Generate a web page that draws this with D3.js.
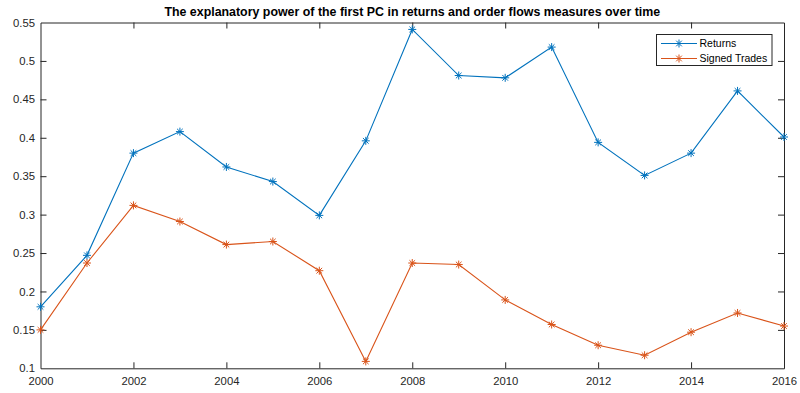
<!DOCTYPE html>
<html>
<head>
<meta charset="utf-8">
<script src="https://cdn.jsdelivr.net/npm/d3@7"></script>
<style>
  html, body { margin: 0; padding: 0; background: #fff; }
  svg { display: block; font-family: "Liberation Sans", Arial, sans-serif; }
</style>
</head>
<body>
<svg id="chart" width="800" height="393"></svg>
<script>
// Share of variance explained by the first principal component, per year
const years = [2000, 2001, 2002, 2003, 2004, 2005, 2006, 2007, 2008,
               2009, 2010, 2011, 2012, 2013, 2014, 2015, 2016];
const returnsPC = [0.180, 0.247, 0.380, 0.408, 0.362, 0.343, 0.299, 0.396, 0.541,
                   0.481, 0.478, 0.518, 0.394, 0.351, 0.380, 0.461, 0.401];
const signedTradesPC = [0.150, 0.237, 0.312, 0.291, 0.261, 0.265, 0.227, 0.109, 0.237,
                        0.235, 0.189, 0.157, 0.130, 0.117, 0.147, 0.172, 0.155];
const xTickValues = [2000, 2002, 2004, 2006, 2008, 2010, 2012, 2014, 2016];
const yTickValues = [0.1, 0.15, 0.2, 0.25, 0.3, 0.35, 0.4, 0.45, 0.5, 0.55];
const seriesNames = ["Returns", "Signed Trades"];
const seriesColors = ["#0072BD", "#D95319"];
const titleText = "The explanatory power of the first PC in returns and order flows measures over time";

const svg = d3.select("#chart");
const plotLeft = 40.5, plotRight = 784, plotTop = 22.5, plotBottom = 368.3;
const axisColor = "#262626";
const tickLen = 6;

const x = d3.scaleLinear().domain([2000, 2016]).range([plotLeft, plotRight]);
const y = d3.scaleLinear().domain([0.1, 0.55]).range([plotBottom, plotTop]);

// Title
svg.append("text")
  .attr("x", (plotLeft + plotRight) / 2).attr("y", 15.5)
  .attr("text-anchor", "middle")
  .attr("font-size", 12.4).attr("font-weight", "bold")
  .attr("fill", "#000")
  .text(titleText);

// Axes: box with inward ticks on all four sides
const xFmt = d3.format("d");
const yFmt = v => d3.format("")(+v.toFixed(2));

const axB = svg.append("g").attr("transform", `translate(0,${plotBottom})`)
  .call(d3.axisBottom(x).tickValues(xTickValues).tickFormat(xFmt).tickSizeInner(-tickLen).tickSizeOuter(0).tickPadding(8.5));
const axT = svg.append("g").attr("transform", `translate(0,${plotTop})`)
  .call(d3.axisTop(x).tickValues(xTickValues).tickFormat("").tickSizeInner(-tickLen).tickSizeOuter(0));
const axL = svg.append("g").attr("transform", `translate(${plotLeft},0)`)
  .call(d3.axisLeft(y).tickValues(yTickValues).tickFormat(yFmt).tickSizeInner(-tickLen).tickSizeOuter(0).tickPadding(5.5));
const axR = svg.append("g").attr("transform", `translate(${plotRight},0)`)
  .call(d3.axisRight(y).tickValues(yTickValues).tickFormat("").tickSizeInner(-tickLen).tickSizeOuter(0));

[axB, axT, axL, axR].forEach(g => {
  g.select(".domain").attr("stroke", axisColor).attr("stroke-width", 1);
  g.selectAll(".tick line").attr("stroke", axisColor).attr("stroke-width", 1);
  g.selectAll(".tick text").attr("fill", axisColor).attr("font-size", 11.3)
    .attr("font-family", "Liberation Sans, Arial, sans-serif");
});
// Drop end ticks lying on the box corners
axT.selectAll(".tick").filter(d => d === 2000 || d === 2016).select("line").remove();
axB.selectAll(".tick").filter(d => d === 2000 || d === 2016).select("line").remove();
axL.selectAll(".tick").filter(d => d === 0.1 || d === 0.55).select("line").remove();
axR.selectAll(".tick").filter(d => d === 0.1 || d === 0.55).select("line").remove();

// Asterisk marker (plus + cross)
function asterisk(r) {
  const d = r * 0.7071;
  return `M${-r},0L${r},0M0,${-r}L0,${r}M${-d},${-d}L${d},${d}M${-d},${d}L${d},${-d}`;
}

const series = [returnsPC, signedTradesPC];
const line = d3.line().x((d, i) => x(years[i])).y(d => y(d));

series.forEach((vals, s) => {
  const g = svg.append("g");
  g.append("path").datum(vals)
    .attr("d", line).attr("fill", "none")
    .attr("stroke", seriesColors[s]).attr("stroke-width", 1.1);
  g.selectAll("path.mk").data(vals).enter().append("path")
    .attr("class", "mk")
    .attr("transform", (d, i) => `translate(${x(years[i])},${y(d)})`)
    .attr("d", asterisk(4))
    .attr("fill", "none").attr("stroke", seriesColors[s]).attr("stroke-width", 1);
});

// Legend
const lg = svg.append("g");
lg.append("rect")
  .attr("x", 656.5).attr("y", 34.5).attr("width", 115.5).attr("height", 31)
  .attr("fill", "#fff").attr("stroke", axisColor).attr("stroke-width", 1);
seriesNames.forEach((name, s) => {
  const yy = 43.5 + s * 15;
  lg.append("line").attr("x1", 661).attr("x2", 697).attr("y1", yy).attr("y2", yy)
    .attr("stroke", seriesColors[s]).attr("stroke-width", 1.1);
  lg.append("path").attr("transform", `translate(679,${yy})`).attr("d", asterisk(4))
    .attr("fill", "none").attr("stroke", seriesColors[s]).attr("stroke-width", 1);
  lg.append("text").attr("x", 699.5).attr("y", yy + 3.8)
    .attr("font-size", 10.5).attr("fill", "#000").text(name);
});
</script>
</body>
</html>
